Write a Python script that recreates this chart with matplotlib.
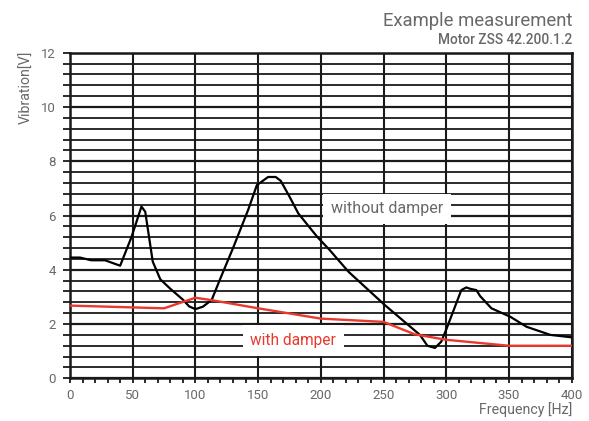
import matplotlib.pyplot as plt
from matplotlib.ticker import MultipleLocator

plt.rcParams['font.family'] = ['Roboto', 'DejaVu Sans']

# Vibration of the motor over frequency, without and with damper
freq_without = [0, 8, 17, 28, 40, 49, 57, 60, 66, 72, 80, 90, 95, 100, 106, 113,
                120, 130, 142, 149, 158, 164, 168, 175, 182, 197, 207, 222, 251,
                279, 285, 291, 296, 300, 312, 316, 319, 324, 327, 336, 351, 364,
                383, 400]
volt_without = [4.45, 4.45, 4.35, 4.35, 4.15, 5.2, 6.33, 6.14, 4.3, 3.65, 3.3,
                2.9, 2.65, 2.55, 2.64, 2.89, 3.69, 4.8, 6.2, 7.12, 7.42, 7.42,
                7.28, 6.7, 6.08, 5.22, 4.73, 3.93, 2.7, 1.6, 1.2, 1.12, 1.35, 1.8,
                3.25, 3.35, 3.3, 3.25, 3.03, 2.58, 2.27, 1.9, 1.6, 1.51]

freq_with = [0, 75, 100, 113, 150, 200, 250, 275, 300, 350, 400]
volt_with = [2.68, 2.58, 2.97, 2.88, 2.58, 2.2, 2.08, 1.62, 1.42, 1.2, 1.2]

x_ticks = [0, 50, 100, 150, 200, 250, 300, 350, 400]
y_ticks = [0, 2, 4, 6, 8, 10, 12]

grey = '#686868'
red = '#e8392d'
ink = '#1a1a1a'

fig = plt.figure(figsize=(5.89, 4.21), dpi=100)
ax = fig.add_axes([0.1188, 0.1014, 0.8518, 0.7734])

ax.set_xlim(0, 400)
ax.set_ylim(0, 12)
ax.set_xticks(x_ticks)
ax.set_yticks(y_ticks)
ax.xaxis.set_minor_locator(MultipleLocator(10))
ax.yaxis.set_minor_locator(MultipleLocator(0.4))

# dense horizontal grid, vertical lines only every 50 Hz
ax.grid(axis='y', which='minor', color=ink, lw=1.3, zorder=1)
ax.grid(axis='y', which='major', color=ink, lw=1.6, zorder=1)
ax.grid(axis='x', which='major', color=ink, lw=1.5, zorder=1)
ax.set_axisbelow(True)

for s in ax.spines.values():
    s.set_color(ink)
    s.set_linewidth(1.8)

ax.tick_params(axis='both', which='both', direction='out', color=ink,
               labelcolor=grey, labelsize=9.5, width=1.3)
ax.tick_params(axis='y', which='both', length=5, pad=5)
ax.tick_params(axis='x', which='both', length=3.5, pad=4)

ax.plot(freq_without, volt_without, color='black', lw=1.6, zorder=4)
ax.plot(freq_with, volt_with, color=red, lw=1.7, zorder=4)

box = dict(boxstyle='square,pad=0.5', facecolor='white', edgecolor='none')
ax.text(253, 6.24, 'without damper', color=grey, fontsize=11.5,
        ha='center', va='center', bbox=box, zorder=3)
ax.text(178, 1.4, 'with damper', color=red, fontsize=11.2,
        ha='center', va='center', bbox=box, zorder=3)

fig.text(572.5 / 589, 1 - 26 / 421, 'Example measurement', color=grey,
         fontsize=13.3, ha='right', va='baseline')
fig.text(572.5 / 589, 1 - 44.5 / 421, 'Motor ZSS 42.200.1.2', color=grey,
         fontsize=9.8, fontweight='medium', ha='right', va='baseline')

fig.text(27 / 589, 1 - 87 / 421, 'Vibration[V]', color=grey, fontsize=10.2,
         rotation=90, ha='center', va='center')
fig.text(572.5 / 589, 1 - 410 / 421, 'Frequency [Hz]', color=grey,
         fontsize=10.2, ha='right', va='center')

fig.savefig('out.png', dpi=100)
